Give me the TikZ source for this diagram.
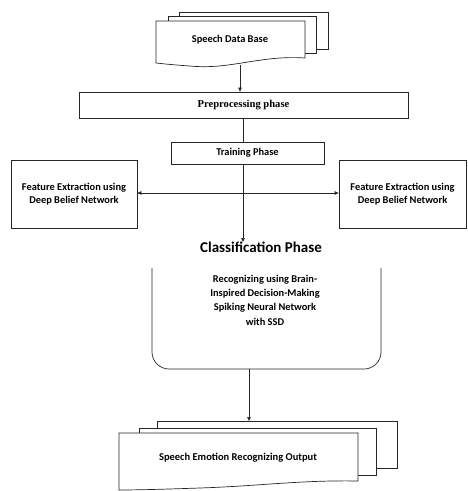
\documentclass[tikz,border=0pt]{standalone}
\usepackage{fontspec}
\setmainfont{Carlito}
\newfontfamily\serifb{Liberation Serif}
\usetikzlibrary{arrows.meta}
\begin{document}
\begin{tikzpicture}[x=1pt,y=-1pt,
  ln/.style={draw=black!85, line width=0.7pt},
  box/.style={ln, rectangle, inner sep=0pt, align=center, fill=white},
  lbl/.style={font=\bfseries\fontsize{10.4}{12.5}\selectfont, align=center},
  arr/.style={ln, -{Triangle[length=4pt,width=3.5pt]}},
  darr/.style={ln, {Triangle[length=4pt,width=3.5pt]}-{Triangle[length=4pt,width=3.5pt]}}]
\useasboundingbox (0,0) rectangle (467,491);
% Speech Data Base documents
\draw[ln, fill=white] (179,12) rectangle (328,49);
\draw[ln, fill=white] (168,16) rectangle (316,53);
\draw[ln, fill=white] (156,21) -- (305,21) -- (305,58) .. controls (260,55) and (230,70) .. (190,66) .. controls (175,65) and (165,64) .. (156,63) -- cycle;
\node[lbl] (sdb) at (230,40) {Speech Data Base};
\coordinate (sdbb) at (240,65);
% Preprocessing
\node[box, minimum width=329pt, minimum height=26pt, font=\serifb\bfseries\fontsize{10.6}{12}\selectfont] (pre) at (243.5,105) {Preprocessing phase};
% Training
\node[box, lbl, minimum width=153pt, minimum height=22pt] (tr) at (247.5,153) {Training Phase};
% Feature boxes
\node[box, lbl, minimum width=126pt, minimum height=68pt] (fl) at (74,194) {Feature Extraction using\\Deep Belief Network};
\node[box, lbl, minimum width=127pt, minimum height=68pt] (fr) at (402.5,194) {Feature Extraction using\\Deep Belief Network};
% Classification
\node[font=\bfseries\fontsize{15}{16}\selectfont] (cls) at (261,247) {Classification\ Phase};
% Recognizing shape
\draw[ln, rounded corners=17pt] (152,268) -- (152,369) -- (381,369) -- (381,268);
\node[lbl, font=\bfseries\fontsize{10.4}{14.3}\selectfont] (rec) at (265,300) {Recognizing using Brain-\\Inspired Decision-Making\\Spiking Neural Network\\with SSD};
\coordinate (recb) at (249,369);
% Output documents
\draw[ln, fill=white] (157,421) rectangle (397,468);
\draw[ln, fill=white] (139,428) rectangle (376,475);
\draw[ln, fill=white] (119,433) -- (358,433) -- (358,481) .. controls (300,480) and (260,486) .. (200,488) .. controls (170,489) and (140,490) .. (119,490) -- cycle;
\node[lbl, font=\bfseries\fontsize{10.5}{12}\selectfont] (out) at (238,458) {Speech Emotion Recognizing Output};
\coordinate (outt) at (249,421);
% Connectors
\draw[arr] (sdbb) -- (pre.north -| sdbb);
\draw[ln] (pre.south -| 243,0) -- (tr.north -| 243,0);
\coordinate (tb) at (243,164);
\coordinate (cl) at (243,242);
\draw[arr] (tb) -- (cl);
\draw[darr] (fl.east |- 0,193) -- (fr.west |- 0,193);
\draw[arr] (recb) -- (outt);
\end{tikzpicture}
\end{document}
